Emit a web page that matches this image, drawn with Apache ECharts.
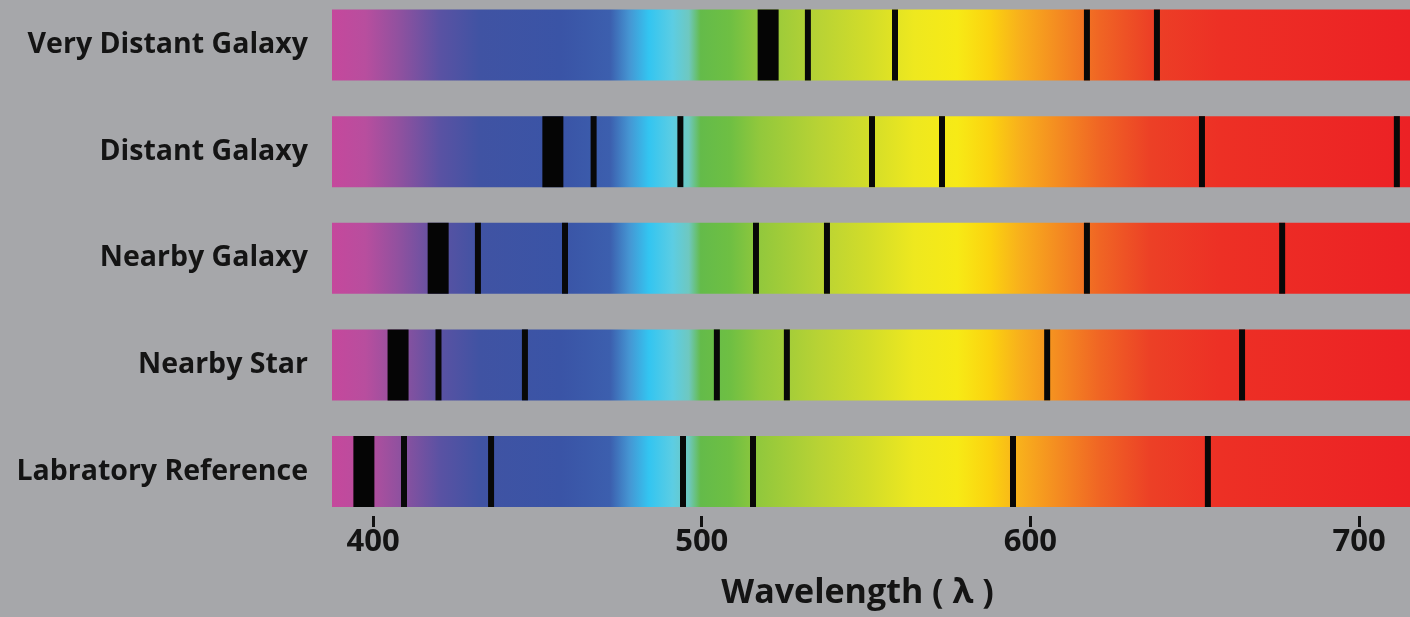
<!DOCTYPE html>
<html><head><meta charset="utf-8">
<script src="https://cdn.jsdelivr.net/npm/echarts@6/dist/echarts.min.js"></script>
<style>html,body{margin:0;padding:0;background:#a6a7aa;} #c{width:1410px;height:617px;}</style>
</head><body><div id="c"></div>
<script>
// ---- data ----
const spectra = ['Very Distant Galaxy', 'Distant Galaxy', 'Nearby Galaxy', 'Nearby Star', 'Labratory Reference'];
const wavelengthRange = [387.5, 715.5];
const tickLabels = [400, 500, 600, 700];
// broad absorption band (one per spectrum, same order as spectra)
const broadLines = [520.2, 454.7, 419.8, 407.6, 397.2];
// narrow absorption lines per spectrum
const narrowVeryDistant = [532.3, 558.8, 617.2, 638.5];
const narrowDistant = [467.1, 493.5, 551.8, 573.1, 652.2, 711.5];
const narrowNearbyGalaxy = [431.9, 458.4, 516.5, 538.1, 617.2, 676.6];
const narrowNearbyStar = [419.9, 446.2, 504.6, 525.9, 605.1, 664.4];
const narrowLab = [409.4, 435.9, 494.3, 515.6, 594.7, 654.0];
const narrowLines = [narrowVeryDistant, narrowDistant, narrowNearbyGalaxy, narrowNearbyStar, narrowLab];

// ---- styles ----
const BAR_H = 71;
const FONT = '"Open Sans", "Noto Sans", sans-serif';
const spectrumStops = [
  [0.000, '#c5489c'], [0.031, '#b84e9e'], [0.063, '#8f519f'], [0.100, '#5a52a3'],
  [0.137, '#4053a3'], [0.212, '#3a54a6'], [0.258, '#3c5fae'], [0.276, '#4596d3'],
  [0.294, '#33c5f1'], [0.316, '#5ccde3'], [0.331, '#6ec8c0'], [0.342, '#64bb4a'],
  [0.369, '#6ebf43'], [0.397, '#92c83c'], [0.453, '#b9d334'], [0.499, '#d3dd29'],
  [0.540, '#eee81f'], [0.580, '#f7ea16'], [0.610, '#fbd30f'], [0.638, '#f8b01c'],
  [0.675, '#f48a21'], [0.712, '#f06524'], [0.759, '#ec4026'], [0.824, '#ed3025'],
  [1.000, '#ec2125']
].map(([offset, color]) => ({ offset, color }));

const bandData = spectra.map((_, i) => [wavelengthRange[0], wavelengthRange[1], i]);
const broadData = broadLines.map((w, i) => [w, i]);
const narrowData = [];
narrowLines.forEach((arr, i) => arr.forEach(w => narrowData.push([w, i])));

const chart = echarts.init(document.getElementById('c'));
chart.setOption({
  backgroundColor: '#a6a7aa',
  animation: false,
  grid: { left: 332, right: 0, top: 45, bottom: 145.5, containLabel: false },
  xAxis: {
    type: 'value',
    min: wavelengthRange[0],
    max: wavelengthRange[1],
    offset: 44.5,
    axisLine: { show: false },
    splitLine: { show: false },
    axisTick: { show: true, customValues: tickLabels, length: 11, lineStyle: { color: '#111', width: 3 } },
    axisLabel: { customValues: tickLabels, fontSize: 31, fontWeight: 'bold', fontFamily: FONT, color: '#141414', margin: 11 },
    name: 'Wavelength ( λ )',
    nameLocation: 'middle',
    nameGap: 60,
    nameTextStyle: { fontSize: 34, fontWeight: 'bold', fontFamily: FONT, color: '#141414', padding: [0, 27, 0, 0] }
  },
  yAxis: {
    type: 'category',
    data: spectra,
    inverse: true,
    boundaryGap: false,
    axisLine: { show: false },
    axisTick: { show: false },
    splitLine: { show: false },
    axisLabel: { fontSize: 28.5, fontWeight: 'bold', fontFamily: FONT, color: '#141414', margin: 24 }
  },
  series: [
    {
      type: 'custom',
      silent: true,
      data: bandData,
      encode: { x: [0, 1], y: 2 },
      renderItem(params, api) {
        const i = api.value(2);
        const s = api.coord([api.value(0), i]);
        const e = api.coord([api.value(1), i]);
        return {
          type: 'rect',
          shape: { x: s[0], y: s[1] - BAR_H / 2, width: e[0] - s[0], height: BAR_H },
          style: { fill: new echarts.graphic.LinearGradient(0, 0, 1, 0, spectrumStops) }
        };
      },
      z: 1
    },
    {
      type: 'scatter', silent: true, symbol: 'rect', symbolSize: [21, BAR_H],
      itemStyle: { color: '#050505', opacity: 1 }, data: broadData, z: 3
    },
    {
      type: 'scatter', silent: true, symbol: 'rect', symbolSize: [6, BAR_H],
      itemStyle: { color: '#080808', opacity: 1 }, data: narrowData, z: 3
    }
  ]
});
</script>
</body></html>
